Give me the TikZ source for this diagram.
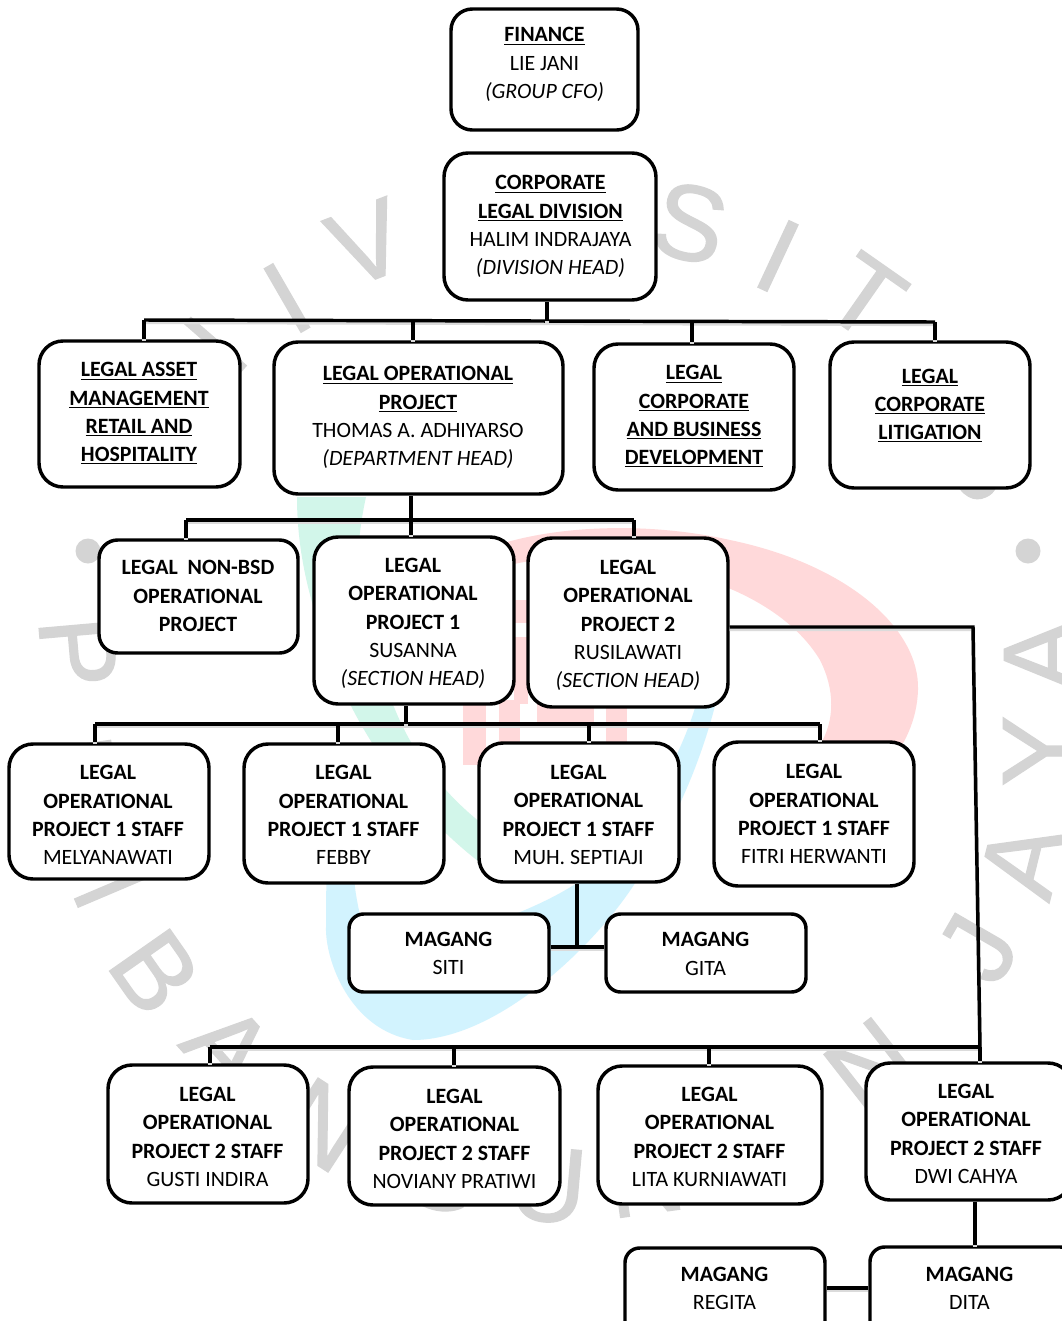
\documentclass[tikz,border=0pt]{standalone}
\usepackage{fontspec}
\setmainfont{Carlito}
\newfontfamily\wmfont[FakeBold=1.2]{Liberation Sans}
\definecolor{wmgray}{HTML}{D4D4D4}
\definecolor{wmpink}{HTML}{FFD9DA}
\definecolor{wmgreen}{HTML}{D2F6EA}
\definecolor{wmblue}{HTML}{D2F3FE}
\tikzset{
  x=0.75pt,y=-0.75pt,
  boxshape/.style={draw=black,line width=2.6pt,fill=white,inner sep=0pt},
  boxtext/.style={align=center,inner sep=0pt,font=\fontsize{16.4}{21.2}\selectfont},
  wire/.style={draw=black,line width=2.6pt,preaction={draw=black!14,line width=3pt,transform canvas={yshift=-1.6pt}}},
  wm/.style={text=wmgray,font=\wmfont\fontsize{80}{80}\selectfont,inner sep=0pt},
}
\newcommand{\bxn}[6]{% name,x1,y1,x2,y2,corner
  \node[boxshape,rounded corners=#6pt,minimum width={(#4-#2)*0.75pt},minimum height={(#5-#3)*0.75pt}] (#1) at ({(#2+#4)/2},{(#3+#5)/2}) {};}
\newcommand{\lbl}[4]{\node[boxtext] (#1t) at (#2,#3) {#4};}
\newcommand{\hd}[1]{\textbf{\underline{#1}}}
\newcommand{\bd}[1]{\textbf{#1}}
\begin{document}
\begin{tikzpicture}
\useasboundingbox (0,0) rectangle (1062,1321);
\clip (0,0) rectangle (1062,1321);
\fill[white] (0,0) rectangle (1062,1321);
% watermark logo
\fill[wmpink] (497,545) .. controls (560,525) and (650,522) .. (730,540) .. controls (850,565) and (920,630) .. (918,690) .. controls (917,720) and (905,745) .. (885,770) -- (820,745) .. controls (835,720) and (835,690) .. (820,660) .. controls (790,610) and (720,575) .. (640,565) .. controls (590,558) and (550,555) .. (510,565) -- cycle;
\fill[wmpink] (514,600) rectangle (528,623);
\fill[wmpink] (514,637) rectangle (528,704);
\fill[wmpink] (463,700) rectangle (486,765);
\fill[wmpink] (499,700) rectangle (520,743);
\fill[wmpink] (537,700) rectangle (594,728);
\fill[wmpink] (606,700) rectangle (627,743);
\fill[wmgreen] (297,497) -- (366,497) .. controls (352,560) and (352,640) .. (394,707) .. controls (415,760) and (450,800) .. (490,830) -- (490,870) .. controls (420,820) and (350,730) .. (325,640) .. controls (305,590) and (297,540) .. (297,497) -- cycle;
\fill[wmblue] (719,690) .. controls (700,770) and (670,830) .. (637,880) .. controls (600,940) and (500,1040) .. (413,1040) .. controls (350,1030) and (325,960) .. (326,927) .. controls (326,900) and (326,880) .. (328,860) -- (354,870) .. controls (354,890) and (358,905) .. (362,925) .. controls (400,960) and (520,920) .. (577,883) .. controls (630,840) and (680,770) .. (700,690) -- cycle;
% watermark letters
\node[wm,rotate=49] (w0) at (199,364) {N};
\node[wm,rotate=30] (w1) at (287,298) {I};
\node[wm,rotate=21] (w2) at (367,243) {V};
\node[wm,rotate=-14] (w3) at (690,223) {S};
\node[wm,rotate=-25] (w4) at (778,256) {I};
\node[wm,rotate=-35] (w5) at (865,297) {T};
\node[wm,rotate=-65] (w6) at (988,462) {S};
\node[wm,rotate=-85] (w7) at (78,652) {P};
\node[wm,rotate=-82] (w8) at (78,772) {E};
\node[wm,rotate=-67] (w9) at (98,860) {M};
\node[wm,rotate=-55] (w10) at (155,972) {B};
\node[wm,rotate=-48] (w11) at (228,1047) {A};
\node[wm,rotate=-33] (w12) at (323,1125) {N};
\node[wm,rotate=-20] (w13) at (440,1172) {G};
\node[wm,rotate=-5] (w14) at (548,1185) {U};
\node[wm,rotate=8] (w15) at (645,1177) {N};
\node[wm,rotate=38] (w16) at (870,1065) {N};
\node[wm,rotate=60] (w17) at (978,948) {J};
\node[wm,rotate=76] (w18) at (1022,860) {A};
\node[wm,rotate=90] (w19) at (1040,751) {Y};
\node[wm,rotate=90] (w20) at (1041,655) {A};
\fill[wmgray] (88,551) circle (12.5);
\fill[wmgray] (1028,551) circle (12.5);
% boxes
\bxn{finance}{451}{9}{638}{130}{16}
\bxn{corp}{444}{153}{656}{300}{18}
\bxn{asset}{39}{341}{240}{487}{18}
\bxn{legalop}{274}{342}{563}{494}{18}
\bxn{corpbus}{594}{344}{794}{490}{18}
\bxn{litig}{830}{342}{1030}{488}{18}
\bxn{nonbsd}{99}{540}{298}{653}{14}
\bxn{pa}{314}{537}{514}{704}{18}
\bxn{pb}{528}{538}{728}{707}{18}
\bxn{sa}{9}{744}{209}{879}{18}
\bxn{sb}{244}{744}{444}{883}{18}
\bxn{sc}{479}{743}{679}{882}{18}
\bxn{sd}{714}{742}{914}{886}{18}
\bxn{siti}{349}{914}{549}{992}{11}
\bxn{gita}{606}{914}{806}{992}{11}
\bxn{ga}{108}{1065}{308}{1203}{18}
\bxn{gb}{349}{1067}{560}{1205}{18}
\bxn{gc}{598}{1066}{822}{1204}{18}
\bxn{gd}{866}{1063}{1072}{1200}{18}
\bxn{regita}{625}{1248}{825}{1345}{11}
\bxn{dita}{870}{1247}{1075}{1345}{11}
% texts
\lbl{finance}{544.5}{64.5}{\hd{FINANCE}\\LIE JANI\\\textit{(GROUP CFO)}}
\lbl{corp}{550.5}{226.5}{\hd{CORPORATE}\\\hd{LEGAL DIVISION}\\HALIM INDRAJAYA\\\textit{(DIVISION HEAD)}}
\lbl{asset}{139}{413.5}{\hd{LEGAL ASSET}\\\hd{MANAGEMENT}\\\hd{RETAIL AND}\\\hd{HOSPITALITY}}
\lbl{legalop}{418}{417.5}{\hd{LEGAL OPERATIONAL}\\\hd{PROJECT}\\THOMAS A. ADHIYARSO\\\textit{(DEPARTMENT HEAD)}}
\lbl{corpbus}{694}{416.5}{\hd{LEGAL}\\\hd{CORPORATE}\\\hd{AND BUSINESS}\\\hd{DEVELOPMENT}}
\lbl{litig}{930}{405.5}{\hd{LEGAL}\\\hd{CORPORATE}\\\hd{LITIGATION}}
\lbl{nonbsd}{198}{596}{\bd{LEGAL\ \ NON-BSD}\\\bd{OPERATIONAL}\\\bd{PROJECT}}
\lbl{pa}{413}{623.5}{\bd{LEGAL}\\\bd{OPERATIONAL}\\\bd{PROJECT 1}\\SUSANNA\\\textit{(SECTION HEAD)}}
\lbl{pb}{628}{625.5}{\bd{LEGAL}\\\bd{OPERATIONAL}\\\bd{PROJECT 2}\\RUSILAWATI\\\textit{(SECTION HEAD)}}
\lbl{sa}{108}{815}{\bd{LEGAL}\\\bd{OPERATIONAL}\\\bd{PROJECT 1 STAFF}\\MELYANAWATI}
\lbl{sb}{343.5}{815}{\bd{LEGAL}\\\bd{OPERATIONAL}\\\bd{PROJECT 1 STAFF}\\FEBBY}
\lbl{sc}{578.5}{815}{\bd{LEGAL}\\\bd{OPERATIONAL}\\\bd{PROJECT 1 STAFF}\\MUH. SEPTIAJI}
\lbl{sd}{814}{814}{\bd{LEGAL}\\\bd{OPERATIONAL}\\\bd{PROJECT 1 STAFF}\\FITRI HERWANTI}
\lbl{siti}{448.5}{953.5}{\bd{MAGANG}\\SITI}
\lbl{gita}{705.5}{954}{\bd{MAGANG}\\GITA}
\lbl{ga}{207.5}{1137}{\bd{LEGAL}\\\bd{OPERATIONAL}\\\bd{PROJECT 2 STAFF}\\GUSTI INDIRA}
\lbl{gb}{454.5}{1139}{\bd{LEGAL}\\\bd{OPERATIONAL}\\\bd{PROJECT 2 STAFF}\\NOVIANY PRATIWI}
\lbl{gc}{709.5}{1137}{\bd{LEGAL}\\\bd{OPERATIONAL}\\\bd{PROJECT 2 STAFF}\\LITA KURNIAWATI}
\lbl{gd}{966}{1134}{\bd{LEGAL}\\\bd{OPERATIONAL}\\\bd{PROJECT 2 STAFF}\\DWI CAHYA}
\lbl{regita}{724.5}{1288.5}{\bd{MAGANG}\\REGITA}
\lbl{dita}{969.5}{1288}{\bd{MAGANG}\\DITA}
% bus coordinates
\coordinate (ba) at (144,320);
\coordinate (bb) at (413,320.5);
\coordinate (bc) at (547,321);
\coordinate (bd) at (692,321.5);
\coordinate (be) at (935,322);
\coordinate (ca) at (186,520);
\coordinate (cb) at (411,520);
\coordinate (cc) at (634,520);
\coordinate (da) at (95,724);
\coordinate (db) at (338,724);
\coordinate (dc) at (406,724);
\coordinate (dd) at (589,724);
\coordinate (de) at (820,724);
\coordinate (ea) at (210,1047);
\coordinate (eb) at (454,1047);
\coordinate (ec) at (709,1047);
\coordinate (ed) at (980,1047);
\coordinate (fa) at (973,627);
\coordinate (ma) at (577,947);
% connectors
\draw[wire] (ba) -- (be);
\draw[wire] (bc) -- (corp.south -| bc);
\draw[wire] (ba) -- (ba |- asset.north);
\draw[wire] (bb) -- (bb |- legalop.north);
\draw[wire] (bd) -- (bd |- corpbus.north);
\draw[wire] (be) -- (be |- litig.north);
\draw[wire] (ca) -- (cc);
\draw[wire] (cb) -- (cb |- legalop.south);
\draw[wire] (ca) -- (ca |- nonbsd.north);
\draw[wire] (cb) -- (cb |- pa.north);
\draw[wire] (cc) -- (cc |- pb.north);
\draw[wire] (da) -- (de);
\draw[wire] (dc) -- (dc |- pa.south);
\draw[wire] (da) -- (da |- sa.north);
\draw[wire] (db) -- (db |- sb.north);
\draw[wire] (dd) -- (dd |- sc.north);
\draw[wire] (de) -- (de |- sd.north);
\draw[wire] (ma) -- (ma |- sc.south);
\draw[wire] (siti.east |- ma) -- (gita.west |- ma);
\draw[wire] (pb.east |- fa) -- (fa) -- (ed);
\draw[wire] (ea) -- (ed);
\draw[wire] (ea) -- (ea |- ga.north);
\draw[wire] (eb) -- (eb |- gb.north);
\draw[wire] (ec) -- (ec |- gc.north);
\draw[wire] (ed) -- (ed |- gd.north);
\coordinate (ga1) at (975,1225);
\draw[wire] (ga1 |- gd.south) -- (ga1 |- dita.north);
\coordinate (ra) at (850,1288);
\draw[wire] (regita.east |- ra) -- (dita.west |- ra);
\end{tikzpicture}
\end{document}
